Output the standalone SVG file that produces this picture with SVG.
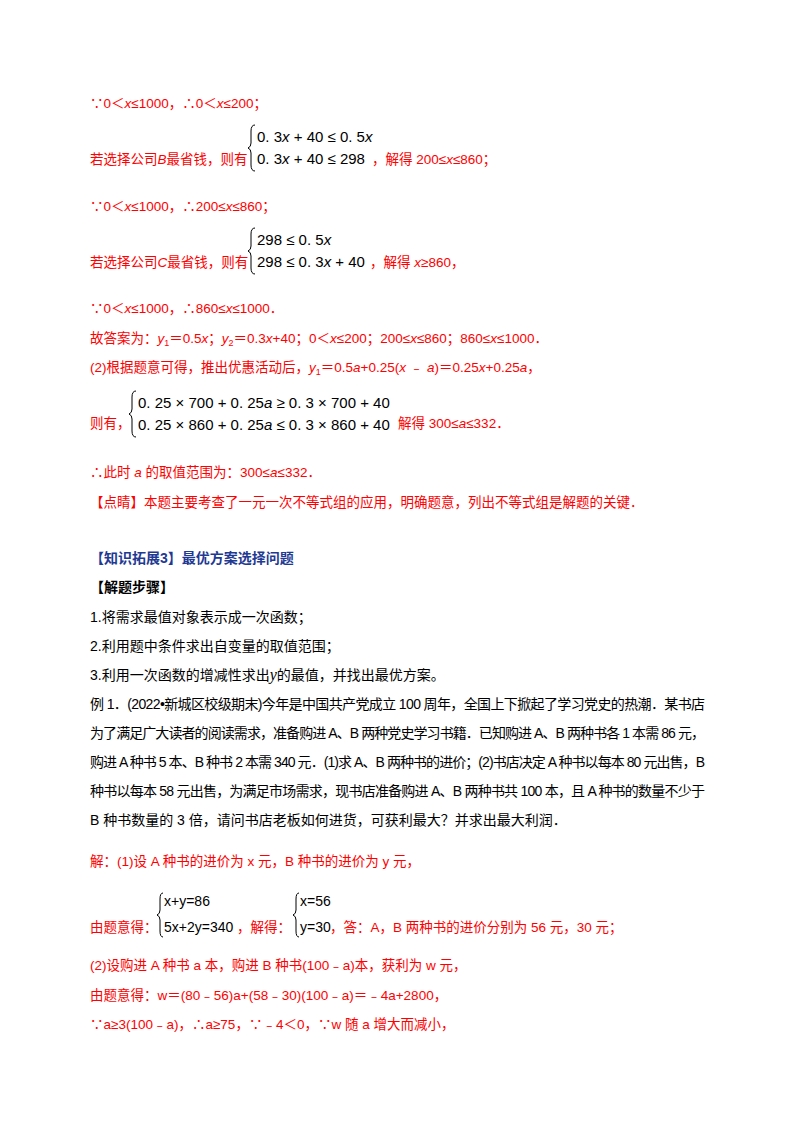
<svg xmlns="http://www.w3.org/2000/svg" width="800" height="1132" viewBox="0 0 800 1132">
<style>
text{font-family:"Liberation Sans","Noto Sans CJK SC",sans-serif;font-size:14px}
.r{fill:#ff0000;font-size:13.5px}.k{fill:#000}.m{fill:#000;font-size:15px}.b{font-weight:bold}
.br{fill:none;stroke:#000;stroke-width:1}
</style>
<rect width="800" height="1132" fill="#fff"/>
<g id="body">
<text class="r" x="90" y="108">∵0＜<tspan font-style="italic">x</tspan>≤1000，∴0＜<tspan font-style="italic">x</tspan>≤200；</text>
<path class="br" d="M255,125 q-4,0 -4,6 v12 q0,4 -3,5 q3,1 3,5 v12 q0,6 4,6"/>
<text class="m" x="257" y="142">0. 3<tspan font-style="italic">x</tspan> + 40 ≤ 0. 5<tspan font-style="italic">x</tspan></text>
<text class="m" x="257" y="164">0. 3<tspan font-style="italic">x</tspan> + 40 ≤ 298</text>
<text class="r" x="90" y="164">若选择公司<tspan font-style="italic">B</tspan>最省钱，则有</text>
<text class="r" x="372" y="164">，解得 200≤<tspan font-style="italic">x</tspan>≤860；</text>
<text class="r" x="90" y="211">∵0＜<tspan font-style="italic">x</tspan>≤1000，∴200≤<tspan font-style="italic">x</tspan>≤860；</text>
<path class="br" d="M255,228 q-4,0 -4,6 v12 q0,4 -3,5 q3,1 3,5 v12 q0,6 4,6"/>
<text class="m" x="257" y="245">298 ≤ 0. 5<tspan font-style="italic">x</tspan></text>
<text class="m" x="257" y="267">298 ≤ 0. 3<tspan font-style="italic">x</tspan> + 40</text>
<text class="r" x="90" y="267">若选择公司<tspan font-style="italic">C</tspan>最省钱，则有</text>
<text class="r" x="370" y="267">，解得 <tspan font-style="italic">x</tspan>≥860，</text>
<text class="r" x="90" y="313">∵0＜<tspan font-style="italic">x</tspan>≤1000，∴860≤<tspan font-style="italic">x</tspan>≤1000．</text>
<text class="r" x="90" y="343">故答案为：<tspan font-style="italic">y</tspan><tspan font-size="9" dy="3">1</tspan><tspan dy="-3">＝0.5</tspan><tspan font-style="italic">x</tspan>；<tspan font-style="italic">y</tspan><tspan font-size="9" dy="3">2</tspan><tspan dy="-3">＝0.3</tspan><tspan font-style="italic">x</tspan>+40；0＜<tspan font-style="italic">x</tspan>≤200；200≤<tspan font-style="italic">x</tspan>≤860；860≤<tspan font-style="italic">x</tspan>≤1000．</text>
<text class="r" x="90" y="372">(2)根据题意可得，推出优惠活动后，<tspan font-style="italic">y</tspan><tspan font-size="9" dy="3">1</tspan><tspan dy="-3">＝0.5</tspan><tspan font-style="italic">a</tspan>+0.25(<tspan font-style="italic">x</tspan> ﹣ <tspan font-style="italic">a</tspan>)＝0.25<tspan font-style="italic">x</tspan>+0.25<tspan font-style="italic">a</tspan>，</text>
<path class="br" d="M136,391 q-4,0 -4,6 v12 q0,4 -3,5 q3,1 3,5 v12 q0,6 4,6"/>
<text class="m" x="138" y="408">0. 25 × 700 + 0. 25<tspan font-style="italic">a</tspan> ≥ 0. 3 × 700 + 40</text>
<text class="m" x="138" y="430">0. 25 × 860 + 0. 25<tspan font-style="italic">a</tspan> ≤ 0. 3 × 860 + 40</text>
<text class="r" x="90" y="428">则有，</text>
<text class="r" x="398" y="428">解得 300≤<tspan font-style="italic">a</tspan>≤332．</text>
<text class="r" x="90" y="477">∴此时 <tspan font-style="italic">a</tspan> 的取值范围为：300≤<tspan font-style="italic">a</tspan>≤332．</text>
<text class="r" x="90" y="507">【点睛】本题主要考查了一元一次不等式组的应用，明确题意，列出不等式组是解题的关键．</text>
<text class="b" x="90" y="563" fill="#1f3a93">【知识拓展3】最优方案选择问题</text>
<text class="k b" x="90" y="592">【解题步骤】</text>
<text class="k" x="90" y="622">1.将需求最值对象表示成一次函数；</text>
<text class="k" x="90" y="651">2.利用题中条件求出自变量的取值范围；</text>
<text class="k" x="90" y="680">3.利用一次函数的增减性求出<tspan font-family="Liberation Serif" font-style="italic" font-size="16">y</tspan>的最值，并找出最优方案。</text>
<text class="k" x="90" y="709" textLength="615" lengthAdjust="spacing">例 1．(2022•新城区校级期末)今年是中国共产党成立 100 周年，全国上下掀起了学习党史的热潮．某书店</text>
<text class="k" x="90" y="738" textLength="615" lengthAdjust="spacing">为了满足广大读者的阅读需求，准备购进 A、B 两种党史学习书籍．已知购进 A、B 两种书各 1 本需 86 元，</text>
<text class="k" x="90" y="767" textLength="615" lengthAdjust="spacing">购进 A 种书 5 本、B 种书 2 本需 340 元．(1)求 A、B 两种书的进价；(2)书店决定 A 种书以每本 80 元出售，B</text>
<text class="k" x="90" y="796" textLength="615" lengthAdjust="spacing">种书以每本 58 元出售，为满足市场需求，现书店准备购进 A、B 两种书共 100 本，且 A 种书的数量不少于</text>
<text class="k" x="90" y="825">B 种书数量的 3 倍，请问书店老板如何进货，可获利最大？并求出最大利润．</text>
<text class="r" x="90" y="866">解：(1)设 A 种书的进价为 x 元，B 种书的进价为 y 元，</text>
<path class="br" d="M163,893 q-3,0 -3,6 v11 q0,4 -3,5 q3,1 3,5 v11 q0,6 3,6"/>
<text class="k" x="164" y="906" font-family="Liberation Serif" font-size="14">x+y=86</text>
<text class="k" x="164" y="932" font-family="Liberation Serif" font-size="14">5x+2y=340</text>
<text class="r" x="90" y="932">由题意得：</text>
<text class="r" x="237" y="932">，解得：</text>
<path class="br" d="M299,893 q-3,0 -3,6 v11 q0,4 -3,5 q3,1 3,5 v11 q0,6 3,6"/>
<text class="k" x="300" y="906" font-family="Liberation Serif" font-size="14">x=56</text>
<text class="k" x="300" y="932" font-family="Liberation Serif" font-size="14">y=30</text>
<text class="r" x="330" y="932">，答：A，B 两种书的进价分别为 56 元，30 元；</text>
<text class="r" x="90" y="970">(2)设购进 A 种书 a 本，购进 B 种书(100﹣a)本，获利为 w 元，</text>
<text class="r" x="90" y="1000">由题意得：w＝(80﹣56)a+(58﹣30)(100﹣a)＝﹣4a+2800，</text>
<text class="r" x="90" y="1029">∵a≥3(100﹣a)，∴a≥75，∵﹣4＜0，∵w 随 a 增大而减小，</text>
</g>
</svg>
